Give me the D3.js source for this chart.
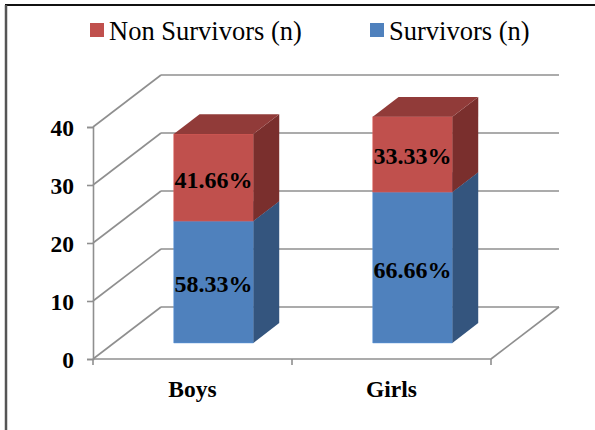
<!DOCTYPE html>
<html>
<head>
<meta charset="utf-8">
<script src="https://cdn.jsdelivr.net/npm/d3@7"></script>
<style>
  body { margin: 0; background: #fff; }
  svg { display: block; }
  svg text { font-family: "Liberation Serif", "Times New Roman", Tinos, "DejaVu Serif", serif; }
</style>
</head>
<body>
<svg width="595" height="430"></svg>
<script>
// values (counts), labels are the printed percentages
const categories = ["Boys", "Girls"]
const survivors = [21, 26]
const nonSurvivors = [15, 13]
const survivorLabels = ["58.33%", "66.66%"]
const nonSurvivorLabels = ["41.66%", "33.33%"]
const yTicks = [0, 10, 20, 30, 40]

const svg = d3.select("svg")

// outer frame (only top and left edges show in the picture)
svg.append("line").attr("x1", 5).attr("y1", 5).attr("x2", 595).attr("y2", 5)
    .attr("stroke", "#111").attr("stroke-width", 2)
svg.append("line").attr("x1", 6).attr("y1", 5).attr("x2", 6).attr("y2", 430)
    .attr("stroke", "#555").attr("stroke-width", 2.5)

// scales for the front plane
const x = d3.scaleBand().domain(categories).range([93, 491])
    .paddingInner(0.6).paddingOuter(0.3)
const y = d3.scaleLinear().domain([0, 40]).range([359, 127])

// oblique depth of the box
const DX = 68, DY = 52
const f0 = 0.31, f1 = 0.69   // bar front / back, as fraction of depth
const P = (px, py, f) => [px + f * DX, py - f * DY]

const grid = "#8f8f8f"
const g = svg.append("g")

// back wall gridlines + left wall diagonals
yTicks.forEach(v => {
    g.append("line")
        .attr("x1", 93 + DX).attr("y1", y(v) - DY)
        .attr("x2", 491 + DX).attr("y2", y(v) - DY)
        .attr("stroke", grid).attr("stroke-width", 1.6)
    g.append("line")
        .attr("x1", 93).attr("y1", y(v))
        .attr("x2", 93 + DX).attr("y2", y(v) - DY)
        .attr("stroke", grid).attr("stroke-width", 1.6)
})
// floor right edge
g.append("line")
    .attr("x1", 491).attr("y1", y(0))
    .attr("x2", 491 + DX).attr("y2", y(0) - DY)
    .attr("stroke", grid).attr("stroke-width", 1.6)

// axes on the front plane
const yAxis = svg.append("g").attr("transform", "translate(93,0)")
    .call(d3.axisLeft(y).tickValues(yTicks).tickSize(6).tickPadding(13))
yAxis.attr("font-family", null)
yAxis.select(".domain").attr("stroke", grid).attr("stroke-width", 1.6)
yAxis.selectAll(".tick line").attr("stroke", grid).attr("stroke-width", 1.6)
yAxis.selectAll(".tick text")
    .attr("font-size", 23.5)
    .attr("font-weight", "bold").attr("fill", "#000").attr("dy", "0.36em")

const xAxis = svg.append("g").attr("transform", "translate(0," + y(0) + ")")
xAxis.append("line").attr("x1", 93).attr("x2", 491)
    .attr("stroke", grid).attr("stroke-width", 1.6)
;[93, 93 + (491 - 93) / 2, 491].forEach(t => {
    xAxis.append("line").attr("x1", t).attr("x2", t).attr("y1", 0).attr("y2", 6)
        .attr("stroke", grid).attr("stroke-width", 1.6)
})
xAxis.selectAll("text.cat").data(categories).enter().append("text")
    .attr("class", "cat")
    .attr("x", d => x(d) + x.bandwidth() / 2)
    .attr("y", 38)
    .attr("text-anchor", "middle")
    .attr("font-size", 23.5).attr("font-weight", "bold")
    .text(d => d)

// 3d bars
const faces = (x0, w, v0, v1) => {
    const fl = P(x0, y(v0), f0), fr = P(x0 + w, y(v0), f0)
    const tl = P(x0, y(v1), f0), tr = P(x0 + w, y(v1), f0)
    const br0 = P(x0 + w, y(v0), f1), br1 = P(x0 + w, y(v1), f1)
    const bl1 = P(x0, y(v1), f1)
    return {
        front: [fl, fr, tr, tl],
        side: [fr, br0, br1, tr],
        top: [tl, tr, br1, bl1]
    }
}
const poly = pts => "M" + pts.map(p => p.join(",")).join("L") + "Z"

const series = [
    { vals: survivors, base: categories.map(() => 0), front: "#4f81bd", side: "#34557e", top: "#3d6496", labels: survivorLabels },
    { vals: nonSurvivors, base: survivors, front: "#c0504d", side: "#7a2f2d", top: "#913b39", labels: nonSurvivorLabels }
]

const bars = svg.append("g")
series.forEach(s => {
    categories.forEach((c, i) => {
        const v0 = s.base[i], v1 = v0 + s.vals[i]
        const f = faces(x(c), x.bandwidth(), v0, v1)
        bars.append("path").attr("d", poly(f.front)).attr("fill", s.front)
            .attr("stroke", d3.color(s.front).brighter(0.4)).attr("stroke-width", 0.6)
        bars.append("path").attr("d", poly(f.side)).attr("fill", s.side)
        bars.append("path").attr("d", poly(f.top)).attr("fill", s.top)
    })
})

// percentage labels on the front faces
series.forEach(s => {
    categories.forEach((c, i) => {
        const v0 = s.base[i], v1 = v0 + s.vals[i]
        const p = P(x(c) + x.bandwidth() / 2, (y(v0) + y(v1)) / 2, f0)
        svg.append("text")
            .attr("x", p[0]).attr("y", p[1])
            .attr("dy", "0.42em")
            .attr("text-anchor", "middle")
            .attr("font-size", 24).attr("font-weight", "bold")
            .text(s.labels[i])
    })
})

// legend
const legend = [
    { name: "Non Survivors (n)", color: "#c0504d", x: 90 },
    { name: "Survivors (n)", color: "#4f81bd", x: 370 }
]
legend.forEach(l => {
    svg.append("rect").attr("x", l.x).attr("y", 23).attr("width", 14).attr("height", 14)
        .attr("fill", l.color)
    svg.append("text").attr("x", l.x + 19).attr("y", 40)
        .attr("font-size", 26.5).text(l.name)
})
</script>
</body>
</html>
